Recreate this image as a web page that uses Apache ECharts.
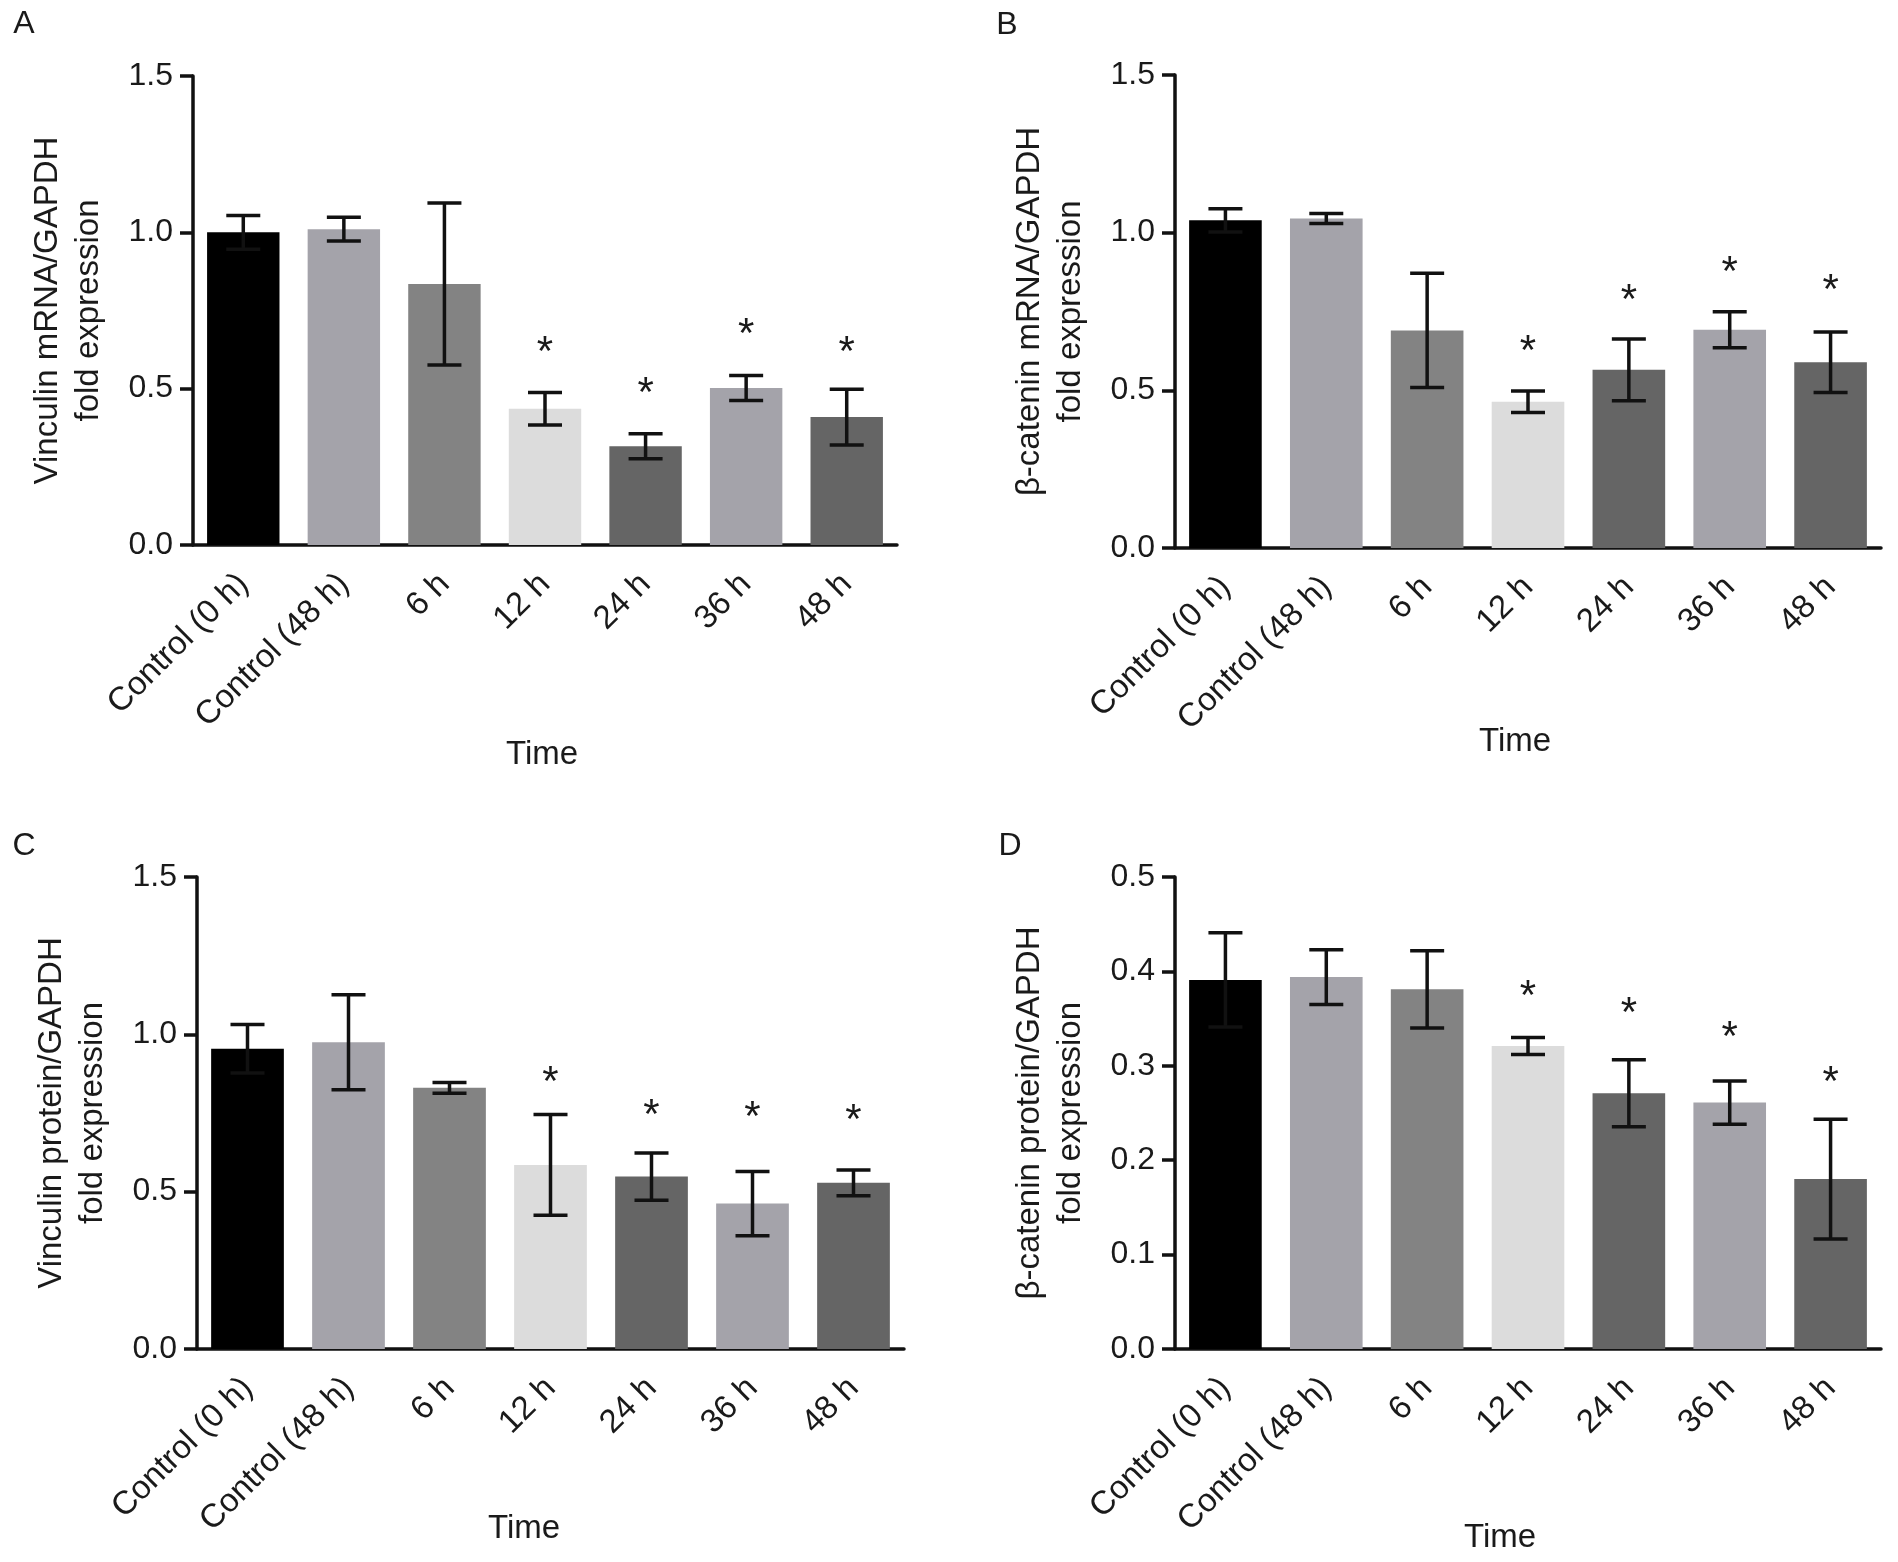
<!DOCTYPE html>
<html><head><meta charset="utf-8">
<script src="https://cdn.jsdelivr.net/npm/echarts@6/dist/echarts.min.js"></script>
<style>html,body{margin:0;padding:0;background:#fff}#c{width:1898px;height:1562px}</style>
</head><body><div id="c"></div>
<script>
// ---- data ----
const categories = ['Control (0 h)', 'Control (48 h)', '6 h', '12 h', '24 h', '36 h', '48 h'];
const barColors = ['#000000', '#a4a3aa', '#838383', '#dcdcdc', '#656565', '#a4a3aa', '#656565'];

const meanA = [1.00, 1.01, 0.835, 0.436, 0.316, 0.502, 0.409];
const errA  = [0.054, 0.038, 0.259, 0.052, 0.040, 0.040, 0.089];
const starA = [null, null, null, 0.645, 0.515, 0.703, 0.644];

const meanB = [1.039, 1.045, 0.690, 0.464, 0.565, 0.692, 0.589];
const errB  = [0.037, 0.016, 0.181, 0.034, 0.098, 0.057, 0.096];
const starB = [null, null, null, 0.652, 0.814, 0.903, 0.845];

const meanC = [0.954, 0.975, 0.830, 0.585, 0.548, 0.462, 0.528];
const errC  = [0.077, 0.151, 0.017, 0.160, 0.075, 0.102, 0.041];
const starC = [null, null, null, 0.877, 0.772, 0.764, 0.756];

const meanD = [0.391, 0.394, 0.381, 0.321, 0.271, 0.261, 0.180];
const errD  = [0.050, 0.029, 0.041, 0.009, 0.0355, 0.023, 0.0635];
const starD = [null, null, null, 0.383, 0.365, 0.340, 0.292];

const yTicksABC = [0, 1.5, 0.5];   // min, max, interval
const yTicksD = [0, 0.5, 0.1];

const yTitles = [
  'Vinculin mRNA/GAPDH\nfold expression',
  '\u03b2-catenin mRNA/GAPDH\nfold expression',
  'Vinculin protein/GAPDH\nfold expression',
  '\u03b2-catenin protein/GAPDH\nfold expression'
];
const xTitle = 'Time';
const panelLetters = ['A', 'B', 'C', 'D'];

// ---- layout / style ----
const FONT = 'Arial, "Liberation Sans", Helvetica, sans-serif';
const INK = '#111111';
const TXT = '#1a1a1a';
const grids = [
  {left: 193, top: 76, width: 704, height: 469},
  {left: 1175, top: 75, width: 706, height: 473},
  {left: 197, top: 877, width: 707, height: 472},
  {left: 1175, top: 877, width: 706, height: 472}
];
const letterPos = [[24, 24.5], [1007, 25.5], [24, 846], [1010, 846]];
const timePos = [[542, 755], [1515, 742], [524, 1529], [1500, 1538]];

const panels = [
  {mean: meanA, err: errA, star: starA, ticks: yTicksABC},
  {mean: meanB, err: errB, star: starB, ticks: yTicksABC},
  {mean: meanC, err: errC, star: starC, ticks: yTicksABC},
  {mean: meanD, err: errD, star: starD, ticks: yTicksD}
];

function errRender(params, api) {
  const xi = api.value(0), m = api.value(1), e = api.value(2);
  const top = api.coord([xi, m + e]);
  const bot = api.coord([xi, m - e]);
  const hw = 17;
  const style = {stroke: INK, lineWidth: 3.5, fill: null};
  return {type: 'group', children: [
    {type: 'line', shape: {x1: top[0], y1: top[1], x2: bot[0], y2: bot[1]}, style: style},
    {type: 'line', shape: {x1: top[0] - hw, y1: top[1], x2: top[0] + hw, y2: top[1]}, style: style},
    {type: 'line', shape: {x1: bot[0] - hw, y1: bot[1], x2: bot[0] + hw, y2: bot[1]}, style: style}
  ]};
}
function starRender(params, api) {
  const p = api.coord([api.value(0), api.value(1)]);
  return {type: 'text', x: p[0], y: p[1] + 10, style: {
    text: '*', font: '42px ' + FONT, fill: TXT, textAlign: 'center', textVerticalAlign: 'middle'
  }};
}

const option = {
  backgroundColor: '#ffffff',
  animation: false,
  grid: grids.map(g => Object.assign({containLabel: false}, g)),
  xAxis: [], yAxis: [], series: [], graphic: []
};

panels.forEach((p, k) => {
  option.xAxis.push({
    type: 'category', gridIndex: k, data: categories,
    axisLine: {lineStyle: {color: INK, width: 3.5}},
    axisTick: {alignWithLabel: true, length: 13, lineStyle: {color: INK, width: 3.5}},
    axisLabel: {interval: 0, rotate: 45, fontSize: 33, color: TXT, fontFamily: FONT, margin: 34}
  });
  option.yAxis.push({
    type: 'value', gridIndex: k, min: p.ticks[0], max: p.ticks[1], interval: p.ticks[2],
    splitLine: {show: false},
    axisLine: {show: true, lineStyle: {color: INK, width: 3.5}},
    axisTick: {show: true, length: 13, lineStyle: {color: INK, width: 3.5}},
    axisLabel: {fontSize: 32, color: TXT, fontFamily: FONT, margin: 20, formatter: v => v.toFixed(1)},
    name: yTitles[k], nameLocation: 'middle', nameGap: 84,
    nameTextStyle: {fontSize: 33, lineHeight: 41, color: TXT, fontFamily: FONT}
  });
  option.series.push({
    type: 'bar', xAxisIndex: k, yAxisIndex: k, barWidth: '72%',
    data: p.mean.map((v, i) => ({value: v, itemStyle: {color: barColors[i]}}))
  });
  option.series.push({
    type: 'custom', xAxisIndex: k, yAxisIndex: k, z: 5,
    renderItem: errRender, encode: {x: 0, y: 1},
    data: p.mean.map((v, i) => [i, v, p.err[i]])
  });
  option.series.push({
    type: 'custom', xAxisIndex: k, yAxisIndex: k, z: 6,
    renderItem: starRender, encode: {x: 0, y: 1},
    data: p.star.map((v, i) => [i, v]).filter(d => d[1] !== null)
  });
  option.graphic.push({
    type: 'text', x: letterPos[k][0], y: letterPos[k][1],
    style: {text: panelLetters[k], font: '32px ' + FONT, fill: TXT, textAlign: 'center', textVerticalAlign: 'middle'}
  });
  option.graphic.push({
    type: 'text', x: timePos[k][0], y: timePos[k][1],
    style: {text: xTitle, font: '33px ' + FONT, fill: TXT, textAlign: 'center', textVerticalAlign: 'middle'}
  });
});

const chart = echarts.init(document.getElementById('c'), null, {renderer: 'canvas'});
chart.setOption(option);
</script>
</body></html>
